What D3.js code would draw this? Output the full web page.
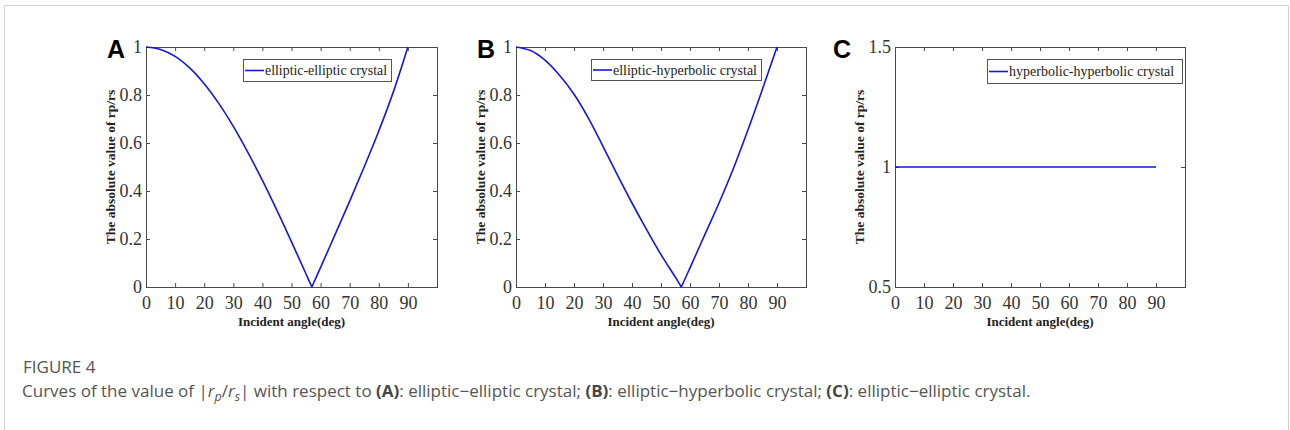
<!DOCTYPE html>
<html>
<head>
<meta charset="utf-8">
<script src="https://cdn.jsdelivr.net/npm/d3@7"></script>
<style>
  html, body { margin: 0; padding: 0; background: #fff; }
  svg { display: block; }
</style>
</head>
<body>
<svg id="chart" width="1290" height="430"></svg>
<script>
// ---------------- DATA ----------------
const angles = [0, 5, 10, 15, 20, 25, 30, 35, 40, 45, 50, 55, 57, 60, 65, 70, 75, 80, 85, 90];
const ellipticElliptic = [1.000, 0.990, 0.961, 0.913, 0.847, 0.765, 0.669, 0.561, 0.444, 0.319, 0.188, 0.054, 0.000, 0.082, 0.219, 0.358, 0.501, 0.650, 0.813, 1.000];
const ellipticHyperbolic = [1.000, 0.985, 0.945, 0.882, 0.803, 0.703, 0.586, 0.466, 0.350, 0.240, 0.135, 0.040, 0.000, 0.080, 0.215, 0.350, 0.495, 0.655, 0.825, 1.000];
const hyperbolicHyperbolic = [1, 1, 1, 1, 1, 1, 1, 1, 1, 1, 1, 1, 1, 1, 1, 1, 1, 1, 1, 1];

const xTickValues = [0, 10, 20, 30, 40, 50, 60, 70, 80, 90];
const xTickLabels = ["0", "10", "20", "30", "40", "50", "60", "70", "80", "90"];
const yTickValuesAB = [0, 0.2, 0.4, 0.6, 0.8, 1];
const yTickLabelsAB = ["0", "0.2", "0.4", "0.6", "0.8", "1"];
const yTickValuesC = [0.5, 1, 1.5];
const yTickLabelsC = ["0.5", "1", "1.5"];

const panelLetters = ["A", "B", "C"];
const legendLabels = ["elliptic-elliptic crystal", "elliptic-hyperbolic crystal", "hyperbolic-hyperbolic crystal"];
const xAxisTitle = "Incident angle(deg)";
const yAxisTitle = "The absolute value of rp/rs";

// ---------------- LAYOUT ----------------
const svg = d3.select("#chart");
svg.append("rect").attr("width", 1290).attr("height", 430).attr("fill", "#fff");
svg.append("path").attr("d", "M4.5,430V5.5H1288.5V430").attr("fill", "none").attr("stroke", "#d2d2d2").attr("stroke-width", 1);

const serif = "'Liberation Serif','Times New Roman',serif";
const lineColor = "#1515e0";
const axisColor = "#4a4a4a";

const panels = [
  { left: 146, right: 437, top: 47, bottom: 287, ydom: [0, 1], yTicks: yTickValuesAB, yLabels: yTickLabelsAB,
    values: ellipticElliptic, letterX: 107, legend: { x: 243, y: 59, w: 148, h: 22 } },
  { left: 516, right: 806, top: 47, bottom: 287, ydom: [0, 1], yTicks: yTickValuesAB, yLabels: yTickLabelsAB,
    values: ellipticHyperbolic, letterX: 477, legend: { x: 591, y: 59, w: 170, h: 21 } },
  { left: 895, right: 1185, top: 47, bottom: 287, ydom: [0.5, 1.5], yTicks: yTickValuesC, yLabels: yTickLabelsC,
    values: hyperbolicHyperbolic, letterX: 833, legend: { x: 987, y: 59, w: 195, h: 24 } }
];

panels.forEach((p, i) => {
  const x = d3.scaleLinear().domain([0, 100]).range([p.left, p.right]);
  const y = d3.scaleLinear().domain(p.ydom).range([p.bottom, p.top]);
  const g = svg.append("g");

  const tickLen = 4;
  const axB = g.append("g").attr("transform", `translate(0,${p.bottom})`)
    .call(d3.axisBottom(x).tickValues(xTickValues).tickSize(-tickLen).tickPadding(9)
      .tickFormat((d, k) => xTickLabels[k]));
  const axT = g.append("g").attr("transform", `translate(0,${p.top})`)
    .call(d3.axisTop(x).tickValues(xTickValues).tickSize(-tickLen).tickFormat(""));
  const axL = g.append("g").attr("transform", `translate(${p.left},0)`)
    .call(d3.axisLeft(y).tickValues(p.yTicks).tickSize(-tickLen).tickPadding(4)
      .tickFormat((d, k) => p.yLabels[k]));
  const axR = g.append("g").attr("transform", `translate(${p.right},0)`)
    .call(d3.axisRight(y).tickValues(p.yTicks).tickSize(-tickLen).tickFormat(""));
  [axB, axT, axL, axR].forEach(a => {
    a.select(".domain").remove();
    a.selectAll(".tick line").attr("stroke", axisColor).attr("stroke-width", 1);
    a.selectAll(".tick text").attr("font-family", serif).attr("font-size", 18).attr("fill", "#333");
  });
  axB.selectAll(".tick text").attr("dy", "0.72em");

  g.append("rect").attr("x", p.left + 0.5).attr("y", p.top + 0.5)
    .attr("width", p.right - p.left).attr("height", p.bottom - p.top)
    .attr("fill", "none").attr("stroke", axisColor).attr("stroke-width", 1);

  // curve: split at minimum to keep the sharp corner
  const pts = angles.map((a, k) => [a, p.values[k]]);
  const minIdx = d3.minIndex(p.values);
  const line = d3.line().x(d => x(d[0])).y(d => y(d[1])).curve(d3.curveCatmullRom.alpha(0.5));
  const branches = (minIdx > 0 && minIdx < pts.length - 1 && p.values[minIdx] < 0.5)
    ? [pts.slice(0, minIdx + 1), pts.slice(minIdx)] : [pts];
  branches.forEach(b => {
    g.append("path").attr("d", line(b)).attr("fill", "none")
      .attr("stroke", lineColor).attr("stroke-width", 1.6).attr("stroke-linejoin", "round");
  });

  // legend
  const L = p.legend;
  g.append("rect").attr("x", L.x + 0.5).attr("y", L.y + 0.5).attr("width", L.w).attr("height", L.h)
    .attr("fill", "#fff").attr("stroke", "#555").attr("stroke-width", 1);
  g.append("line").attr("x1", L.x + 2).attr("x2", L.x + 21)
    .attr("y1", L.y + L.h / 2 + 0.5).attr("y2", L.y + L.h / 2 + 0.5)
    .attr("stroke", lineColor).attr("stroke-width", 1.6);
  const lt = g.append("text").attr("x", L.x + 22).attr("y", L.y + L.h / 2 + 0.5).attr("dy", "0.33em")
    .attr("font-family", serif).attr("font-size", 14).attr("fill", "#222")
    .text(legendLabels[i]);
  const avail = L.w - 26;
  const wl = lt.node().getComputedTextLength();
  if (wl > avail) lt.attr("textLength", avail).attr("lengthAdjust", "spacingAndGlyphs");

  // axis titles
  g.append("text").attr("x", (p.left + p.right) / 2).attr("y", 326).attr("text-anchor", "middle")
    .attr("font-family", serif).attr("font-weight", "bold").attr("font-size", 13).attr("fill", "#222")
    .text(xAxisTitle);
  g.append("text").attr("transform", `translate(${p.left - 31},${(p.top + p.bottom) / 2}) rotate(-90)`)
    .attr("text-anchor", "middle")
    .attr("font-family", serif).attr("font-weight", "bold").attr("font-size", 13.5).attr("fill", "#222")
    .text(yAxisTitle);

  g.append("text").attr("x", p.letterX).attr("y", 58)
    .attr("font-family", "'Liberation Sans',Arial,sans-serif").attr("font-weight", "bold")
    .attr("font-size", 25).attr("fill", "#000").text(panelLetters[i]);
});

// ---------------- CAPTION ----------------
const capFont = "'Open Sans','Noto Sans',sans-serif";
svg.append("text").attr("x", 23).attr("y", 373).attr("font-family", capFont)
  .attr("font-size", 17).attr("fill", "#555").text("FIGURE 4");

const cap = svg.append("text").attr("x", 22).attr("y", 397).attr("font-family", capFont)
  .attr("font-size", 16.5).attr("fill", "#555");
const parts = [
  { t: "Curves of the value of |" },
  { t: "r", it: true }, { t: "p", it: true, sub: true },
  { t: "/" },
  { t: "r", it: true }, { t: "s", it: true, sub: true },
  { t: "| with respect to " },
  { t: "(A)", b: true }, { t: ": elliptic\u2212elliptic crystal; " },
  { t: "(B)", b: true }, { t: ": elliptic\u2212hyperbolic crystal; " },
  { t: "(C)", b: true }, { t: ": elliptic\u2212elliptic crystal." }
];
let prevSub = false;
parts.forEach(pt => {
  const ts = cap.append("tspan").text(pt.t);
  if (pt.it) ts.attr("font-style", "italic");
  if (pt.b) ts.attr("font-weight", "bold").attr("fill", "#444");
  if (pt.sub && !prevSub) { ts.attr("dy", 4).attr("font-size", 12); }
  else if (!pt.sub && prevSub) { ts.attr("dy", -4); }
  else if (pt.sub) { ts.attr("font-size", 12); }
  prevSub = !!pt.sub;
});
{
  const w = cap.node().getBBox().width;
  const s = 1009 / w;
  cap.attr("transform", `translate(22,0) scale(${s},1) translate(-22,0)`);
}
</script>
</body>
</html>
